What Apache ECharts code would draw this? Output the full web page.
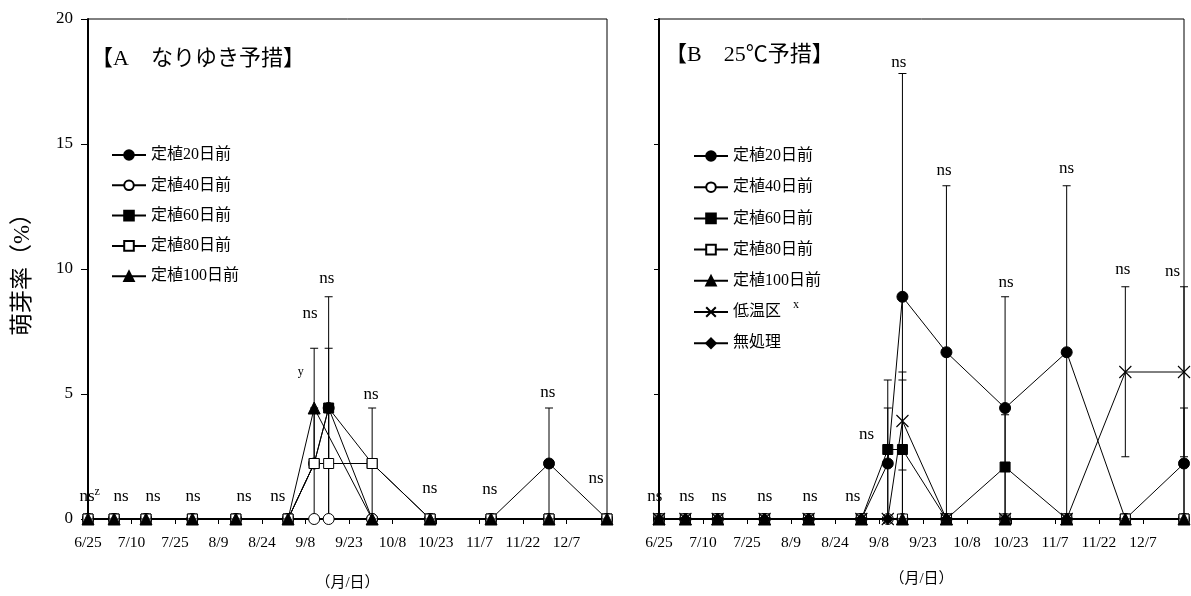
<!DOCTYPE html>
<html><head><meta charset="utf-8">
<script src="https://cdn.jsdelivr.net/npm/echarts@6/dist/echarts.min.js"></script>
<style>html,body{margin:0;padding:0;background:#fff}#c{width:1191px;height:596px}</style>
</head><body><div id="c"></div><script>
// ---- data ----
const sampleDates = ['6/25','7/4','7/15','7/31','8/15','9/2','9/11','9/16','10/1','10/21','11/11','12/1','12/21'];
const seriesNames = ['定植20日前','定植40日前','定植60日前','定植80日前','定植100日前','低温区','無処理'];
const axisStart = '6/25';
const axisEnd = '12/21';
const tickStepDays = 15;
const yTicks = [0, 5, 10, 15, 20];

// Panel A (なりゆき予措)
const A_d20  = [0,0,0,0,0,0,2.22,4.44,0,0,0,2.22,0];
const A_d40  = [0,0,0,0,0,0,0,0,0,0,0,0,0];
const A_d60  = [0,0,0,0,0,0,2.22,4.44,2.22,0,0,0,0];
const A_d80  = [0,0,0,0,0,0,2.22,2.22,2.22,0,0,0,0];
const A_d100 = [0,0,0,0,0,0,4.44,null,0,0,0,0,0];
// error bars: [date, low, high]
const A_err = [['9/11',2.05,6.83],['9/11',0,4.44],['9/16',0,8.89],['9/16',2.05,6.83],['9/16',0,4.44],['10/1',0,4.44],['12/1',0,4.44]];
// "ns" annotation anchors: [day offset, value]
const A_ns = [[-0.3,0.88],[11.4,0.88],[22.4,0.88],[36.2,0.88],[53.8,0.88],[65.5,0.88],[76.6,8.2],[82.4,9.6],[97.6,4.96],[117.9,1.2],[138.6,1.16],[158.6,5.04],[175.2,1.6]];
const A_supZ = [[3.2,1.1]];
const A_supY = [[73.4,5.9]];

// Panel B (25℃予措)
const B_d20  = [0,0,0,0,0,0,2.22,8.89,6.67,4.44,6.67,0,2.22];
const B_d40  = [0,0,0,0,0,0,0,0,0,0,0,0,0];
const B_d60  = [0,0,0,0,0,0,2.78,2.78,0,2.08,0,0,0];
const B_d80  = [0,0,0,0,0,0,null,0,0,0,0,0,0];
const B_d100 = [0,0,0,0,0,0,null,0,0,0,0,0,0];
const B_low  = [0,0,0,0,0,0,0,3.92,0,0,0,5.88,5.88];
const B_none = [0,0,0,0,0,0,0,null,0,0,0,null,null];
const B_err = [['9/11',0,5.56],['9/11',0,4.44],['9/16',1.96,5.88],['9/16',0,5.56],['9/16',0,17.82],['10/1',0,13.33],['10/21',0,8.89],['10/21',0,4.17],['11/11',0,13.33],['12/1',2.49,9.29],['12/21',2.49,9.29],['12/21',0,4.44]];
const B_ns = [[-1.4,0.88],[9.5,0.88],[20.5,0.88],[36.1,0.88],[51.5,0.88],[66.1,0.88],[70.8,3.36],[81.8,18.24],[97.2,13.92],[118.3,9.44],[139,14],[158.1,9.96],[175.1,9.88]];

// ---- helpers ----
const Y0 = 2021;
function dayOf(md){const [m,d]=md.split('/').map(Number);const [m0,d0]=axisStart.split('/').map(Number);return Math.round((Date.UTC(Y0,m-1,d)-Date.UTC(Y0,m0-1,d0))/86400000);}
function labelOf(v){const [m0,d0]=axisStart.split('/').map(Number);const t=new Date(Date.UTC(Y0,m0-1,d0)+v*86400000);return (t.getUTCMonth()+1)+'/'+t.getUTCDate();}
const days = sampleDates.map(dayOf);
const maxDay = dayOf(axisEnd);

const FONT = "'Liberation Serif','Noto Sans CJK JP',serif";
const markers = {
  '定植20日前': {symbol:'circle', size:11, fill:'#000'},
  '定植40日前': {symbol:'circle', size:11, fill:'#fff'},
  '定植60日前': {symbol:'rect', size:10, fill:'#000'},
  '定植80日前': {symbol:'rect', size:10, fill:'#fff'},
  '定植100日前': {symbol:'triangle', size:12, fill:'#000'},
  '低温区': {symbol:'path://M0,0L10,10M10,0L0,10', size:12, fill:'#000', bw:1.1},
  '無処理': {symbol:'diamond', size:11, fill:'#000'}
};
function lineSeries(name, values, gi, z){
  const m = markers[name];
  return {type:'line', name, xAxisIndex:gi, yAxisIndex:gi,
    data: values.map((v,i)=> v==null?null:[days[i],v]).filter(p=>p),
    symbol:m.symbol, symbolSize:m.size, showAllSymbol:true,
    lineStyle:{color:'#000', width:1},
    itemStyle:{color:m.fill, borderColor:'#000', borderWidth:m.bw||1},
    z:z, silent:true, emphasis:{disabled:true}, animation:false};
}
function errSeries(list, gi){
  return {type:'custom', xAxisIndex:gi, yAxisIndex:gi, z:3, silent:true, animation:false,
    data: list.map(e=>[dayOf(e[0]), e[1], e[2]]),
    encode:{x:0, y:[1,2]},
    renderItem:function(params, api){
      const x=api.value(0), lo=api.value(1), hi=api.value(2);
      const a=api.coord([x,lo]), b=api.coord([x,hi]); const w=4;
      const st={stroke:'#000', lineWidth:1};
      return {type:'group', children:[
        {type:'line', shape:{x1:a[0],y1:a[1],x2:b[0],y2:b[1]}, style:st},
        {type:'line', shape:{x1:b[0]-w,y1:b[1],x2:b[0]+w,y2:b[1]}, style:st},
        {type:'line', shape:{x1:a[0]-w,y1:a[1],x2:a[0]+w,y2:a[1]}, style:st}
      ]};
    }};
}
function textSeries(list, text, size, gi){
  return {type:'custom', xAxisIndex:gi, yAxisIndex:gi, z:30, silent:true, animation:false,
    data:list, encode:{x:0,y:1}, clip:false,
    renderItem:function(params, api){
      const p=api.coord([api.value(0), api.value(1)]);
      return {type:'text', x:p[0], y:p[1], style:{text:text, fill:'#000', fontSize:size, fontFamily:FONT, align:'center', verticalAlign:'middle'}};
    }};
}
function xAxis(gi, gap){
  return {type:'value', gridIndex:gi, min:0, max:maxDay, interval:tickStepDays,
    axisLine:{show:true, onZero:false, lineStyle:{color:'#000', width:2}},
    axisTick:{show:true, length:5, lineStyle:{color:'#000', width:1}},
    axisLabel:{color:'#000', fontSize:15.5, fontFamily:FONT, margin:16, showMaxLabel:false,
      formatter:v=> (v % tickStepDays === 0 && v < maxDay) ? labelOf(v) : ''},
    splitLine:{show:false},
    name:'（月/日）', nameLocation:'middle', nameGap:gap, nameMoveOverlap:false,
    nameTextStyle:{color:'#000', fontSize:15, fontFamily:FONT}};
}
function yAxis(gi, showLabel){
  return {type:'value', gridIndex:gi, min:yTicks[0], max:yTicks[yTicks.length-1], interval:yTicks[1]-yTicks[0],
    axisLine:{show:true, lineStyle:{color:'#000', width:2}},
    axisTick:{show:true, length: showLabel?7:5, lineStyle:{color:'#000', width:1}},
    axisLabel:{show:showLabel, color:'#000', fontSize:17, fontFamily:FONT, margin:15},
    splitLine:{show:false},
    name: showLabel ? '萌芽率（%）' : '', nameLocation:'middle', nameGap:54, nameMoveOverlap:false,
    nameTextStyle:{color:'#000', fontSize:23, fontFamily:FONT}};
}
const legendText = {color:'#000', fontSize:16, lineHeight:18, fontFamily:FONT};

const chart = echarts.init(document.getElementById('c'), null, {renderer:'canvas'});
chart.setOption({
  animation:false,
  backgroundColor:'#fff',
  title:[
    {text:'【A　なりゆき予措】', left:91, top:47, padding:0, textStyle:{color:'#000', fontSize:22, fontWeight:'normal', fontFamily:FONT, lineHeight:24}},
    {text:'【B　25℃予措】', left:665, top:43, padding:0, textStyle:{color:'#000', fontSize:22, fontWeight:'normal', fontFamily:FONT, lineHeight:24}}
  ],
  grid:[
    {left:88, top:19, width:519, height:500, show:true, borderColor:'#000', borderWidth:1, backgroundColor:'transparent', outerBoundsMode:'none', containLabel:false},
    {left:659, top:19, width:525, height:500, show:true, borderColor:'#000', borderWidth:1, backgroundColor:'transparent', outerBoundsMode:'none', containLabel:false}
  ],
  xAxis:[xAxis(0,57), xAxis(1,53)],
  yAxis:[yAxis(0,true), yAxis(1,false)],
  legend:[
    {data:seriesNames.slice(0,5), orient:'vertical', left:111, top:146, padding:0, itemWidth:34, itemHeight:12, itemGap:12.3, textStyle:legendText, selectedMode:false},
    {data:seriesNames, orient:'vertical', left:693, top:147, padding:0, itemWidth:34, itemHeight:12, itemGap:13.2, textStyle:legendText, selectedMode:false}
  ],
  graphic:[
    {type:'text', left:793, top:299, style:{text:'x', fontSize:12, fontFamily:FONT, fill:'#000'}}
  ],
  series:[
    errSeries(A_err,0),
    lineSeries('定植20日前', A_d20, 0, 10),
    lineSeries('定植40日前', A_d40, 0, 11),
    lineSeries('定植60日前', A_d60, 0, 12),
    lineSeries('定植80日前', A_d80, 0, 13),
    lineSeries('定植100日前', A_d100, 0, 14),
    textSeries(A_ns,'ns',17,0),
    textSeries(A_supZ,'z',12,0),
    textSeries(A_supY,'y',12,0),
    errSeries(B_err,1),
    lineSeries('定植20日前', B_d20, 1, 10),
    lineSeries('定植40日前', B_d40, 1, 11),
    lineSeries('定植60日前', B_d60, 1, 12),
    lineSeries('定植80日前', B_d80, 1, 13),
    lineSeries('定植100日前', B_d100, 1, 14),
    lineSeries('低温区', B_low, 1, 15),
    lineSeries('無処理', B_none, 1, 16),
    textSeries(B_ns,'ns',17,1)
  ]
});
</script></body></html>
